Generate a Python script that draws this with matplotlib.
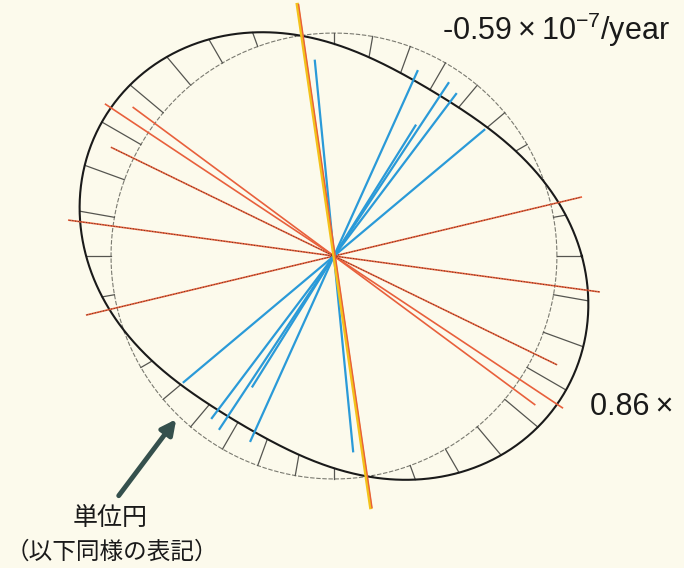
import numpy as np
import matplotlib.pyplot as plt

plt.rcParams['font.family'] = ['Liberation Sans', 'DejaVu Sans']
plt.rcParams['mathtext.fontset'] = 'custom'
plt.rcParams['mathtext.rm'] = 'Liberation Sans'
plt.rcParams['mathtext.default'] = 'regular'

# principal strain rates (x10^-7/year) and direction of the max axis
e_max = 0.86
e_min = -0.59
axis_deg = -31.0
scale = 0.235          # how far 1x10^-7/year pushes the curve off the unit circle

tick_deg = np.arange(0, 360, 10)

# red axes (direction from east, ccw, and half length; unit circle = 1)
red_deg = [146.4, 143.5, 154.0, 172.3, 13.4]
red_len = [1.23, 1.12, 1.11, 1.20, 1.14]
red_dots = [False, False, True, True, True]

# the near vertical yellow / red one
yel_deg = 98.3
yel_len = 1.14

# blue axes
blue_deg = [95.6, 65.7, 56.5, 53.0, 40.0, 58.0]
blue_len = [0.88, 0.91, 0.93, 0.91, 0.88, 0.69]

bg = '#fcfaec'
red = '#e8603c'
blue = '#2a9ad8'
yellow = '#f3c21b'


def strain_r(deg):
    t = np.radians(deg - axis_deg)
    return 1 + scale * (e_max * np.cos(t) ** 2 + e_min * np.sin(t) ** 2)


def axis_line(deg, length):
    t = np.radians(deg)
    return [-length * np.cos(t), length * np.cos(t)], [-length * np.sin(t), length * np.sin(t)]


fig = plt.figure(figsize=(6.84, 5.68), dpi=100, facecolor=bg)
ax = fig.add_axes([0, 0, 1, 1])
ax.set_facecolor(bg)
ax.set_xlim(-1.498, 1.570)
ax.set_ylim(-1.399, 1.148)
ax.set_aspect('equal')
ax.axis('off')

# unit circle
th = np.linspace(0, 360, 721)
ax.plot(np.cos(np.radians(th)), np.sin(np.radians(th)), color='#7a7a70',
        lw=0.8, ls=(0, (4, 1.5)), zorder=2)

# strain curve
r = strain_r(th)
ax.plot(r * np.cos(np.radians(th)), r * np.sin(np.radians(th)), color='#1a1a1a', lw=1.5, zorder=3)

# ticks between circle and curve
for d in tick_deg:
    rr = strain_r(d)
    c, s = np.cos(np.radians(d)), np.sin(np.radians(d))
    ax.plot([c, rr * c], [s, rr * s], color='#555550', lw=0.9, zorder=2)

# red axes
for d, l, dots in zip(red_deg, red_len, red_dots):
    x, y = axis_line(d, l)
    ax.plot(x, y, color=red, lw=1.2, zorder=4)
    if dots:
        ax.plot(x, y, color='#3a2a20', lw=0.5, ls=(0, (1.5, 2.5)), zorder=5)

# blue axes
for d, l in zip(blue_deg, blue_len):
    x, y = axis_line(d, l)
    ax.plot(x, y, color=blue, lw=1.6, zorder=4)

# yellow + red near vertical
x, y = axis_line(yel_deg, yel_len)
ax.plot(x, y, color=yellow, lw=2.4, zorder=6)
ax.plot(np.array(x) + 0.006, y, color=red, lw=1.0, zorder=7)

# labels
ax.text(0.484, 1.013, '-0.59\u2009×\u200910$^{-7}$/year', fontsize=22, ha='left', va='center',
        color='#1a1a1a')
ax.text(1.148, -0.677, '0.86\u2009×', fontsize=22, ha='left', va='center', color='#1a1a1a')

ax.annotate('', xy=(-0.70, -0.722), xytext=(-0.973, -1.085),
            arrowprops=dict(arrowstyle='-|>', lw=3.5, color='#35504d', mutation_scale=22))
ax.text(-1.003, -1.175, '単位円', fontsize=18, ha='center', va='center',
        family=['Noto Sans CJK JP', 'DejaVu Sans'], color='#1a1a1a')
ax.text(-0.998, -1.327, '（以下同様の表記）', fontsize=17, ha='center', va='center',
        family=['Noto Sans CJK JP', 'DejaVu Sans'], color='#1a1a1a')

fig.savefig('out.png', dpi=100, facecolor=bg)
